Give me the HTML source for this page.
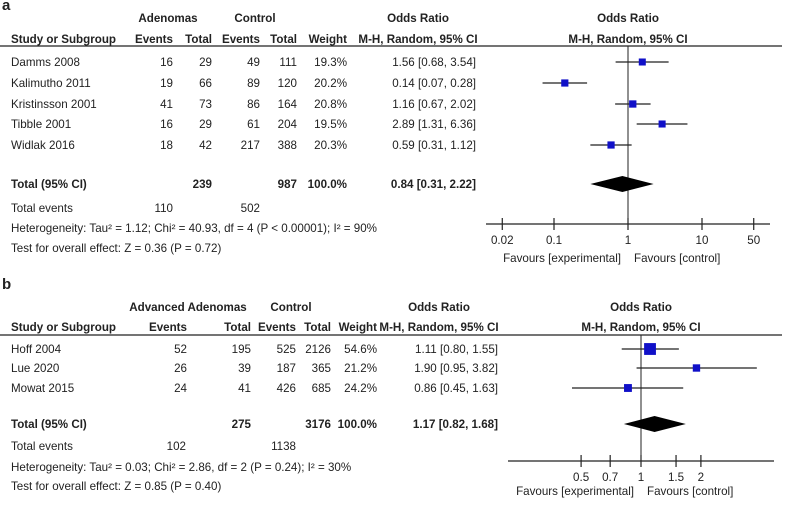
<!DOCTYPE html>
<html><head><meta charset="utf-8"><style>
body{margin:0;background:#fff}
svg text{font-family:"Liberation Sans",Arial,sans-serif;font-size:11.6px;fill:#222}
.b{font-weight:bold}
</style></head><body>
<svg id="s" width="786" height="500" viewBox="0 0 786 500"></svg>
<script>
// Panel a data
const aStudies=["Damms 2008","Kalimutho 2011","Kristinsson 2001","Tibble 2001","Widlak 2016"];
const aEvE=[16,19,41,16,18], aTotE=[29,66,73,29,42], aEvC=[49,89,86,61,217], aTotC=[111,120,164,204,388];
const aWeight=[19.3,20.2,20.8,19.5,20.3];
const aOR=[1.56,0.14,1.16,2.89,0.59], aLo=[0.68,0.07,0.67,1.31,0.31], aHi=[3.54,0.28,2.02,6.36,1.12];
const aPooled=[0.84,0.31,2.22];
const aTicks=[0.02,0.1,1,10,50];
// Panel b data
const bStudies=["Hoff 2004","Lue 2020","Mowat 2015"];
const bEvE=[52,26,24], bTotE=[195,39,41], bEvC=[525,187,426], bTotC=[2126,365,685];
const bWeight=[54.6,21.2,24.2];
const bOR=[1.11,1.90,0.86], bLo=[0.80,0.95,0.45], bHi=[1.55,3.82,1.63];
const bPooled=[1.17,0.82,1.68];
const bTicks=[0.5,0.7,1,1.5,2];

const S=document.getElementById('s'),NS='http://www.w3.org/2000/svg';
function el(t,a,name,txt){const e=document.createElementNS(NS,t);for(const k in a)e.setAttribute(k,a[k]);


if(txt!==undefined)e.textContent=txt;S.appendChild(e);return e;}
function tx(x,y,s,name,anchor,bold,size){const a={x:x,y:y+4,'text-anchor':anchor||'start'};if(bold)a['class']='b';if(size)a['style']='font-size:'+size+'px';return el('text',a,name,s);}
const f2=v=>v.toFixed(2);
function ci(o,l,h){return f2(o)+' ['+f2(l)+', '+f2(h)+']';}

function panel(p){
  const X=v=>p.x1+Math.log10(v)*p.ppd;
  tx(2,p.yLabel,p.letter,'panel-label-'+p.letter,'start',true,15);
  tx(p.grpE,p.yh1,p.grpName,'experimental-group-header','middle',true);
  tx(p.grpC,p.yh1,'Control','control-group-header','middle',true);
  tx(p.orC,p.yh1,'Odds Ratio','odds-ratio-header','middle',true);
  tx(p.x1,p.yh1,'Odds Ratio','plot-odds-ratio-header','middle',true);
  tx(11,p.yh2,'Study or Subgroup','study-column-header','start',true);
  tx(p.c[0],p.yh2,'Events','exp-events-header','end',true);
  tx(p.c[1],p.yh2,'Total','exp-total-header','end',true);
  tx(p.c[2],p.yh2,'Events','ctrl-events-header','end',true);
  tx(p.c[3],p.yh2,'Total','ctrl-total-header','end',true);
  tx(p.c[4],p.yh2,'Weight','weight-header','end',true);
  tx(p.orC,p.yh2,'M-H, Random, 95% CI','or-method-header','middle',true);
  tx(p.x1,p.yh2,'M-H, Random, 95% CI','plot-method-header','middle',true);
  el('line',{x1:0,x2:782,y1:p.yLine,y2:p.yLine,stroke:'#222','stroke-width':1.3},'header-rule');
  el('line',{x1:p.x1,x2:p.x1,y1:p.yLine,y2:p.yAxis,stroke:'#222','stroke-width':1},'null-line');
  p.st.forEach((s,i)=>{const y=p.rows[i];
    tx(11,y,s,'study-name');
    tx(p.c[0],y,p.evE[i],'exp-events','end');tx(p.c[1],y,p.totE[i],'exp-total','end');
    tx(p.c[2],y,p.evC[i],'ctrl-events','end');tx(p.c[3],y,p.totC[i],'ctrl-total','end');
    tx(p.c[4],y,p.w[i].toFixed(1)+'%','study-weight','end');
    tx(p.orR,y,ci(p.or[i],p.lo[i],p.hi[i]),'study-odds-ratio','end');
    el('line',{x1:X(p.lo[i]),x2:X(p.hi[i]),y1:y,y2:y,stroke:'#222','stroke-width':1.2},'ci-line');
    const sz=1.6*Math.sqrt(p.w[i]);
    el('rect',{x:X(p.or[i])-sz/2,y:y-sz/2,width:sz,height:sz,fill:'#1010c8'},'study-marker');
  });
  const yt=p.yTot, tE=p.totE.reduce((a,b)=>a+b,0), tC=p.totC.reduce((a,b)=>a+b,0);
  tx(11,yt,'Total (95% CI)','total-label','start',true);
  tx(p.c[1],yt,tE,'total-exp','end',true);tx(p.c[3],yt,tC,'total-ctrl','end',true);
  tx(p.c[4],yt,'100.0%','total-weight','end',true);
  tx(p.orR,yt,ci(p.pool[0],p.pool[1],p.pool[2]),'pooled-odds-ratio','end',true);
  el('polygon',{points:[X(p.pool[1])+','+yt,X(p.pool[0])+','+(yt-8),X(p.pool[2])+','+yt,X(p.pool[0])+','+(yt+8)].join(' '),fill:'#000'},'pooled-diamond');
  tx(11,p.yEv,'Total events','total-events-label');
  tx(p.evEx,p.yEv,p.evE.reduce((a,b)=>a+b,0),'total-exp-events','end');
  tx(p.evCx,p.yEv,p.evC.reduce((a,b)=>a+b,0),'total-ctrl-events','end');
  tx(11,p.yHet,p.het,'heterogeneity-text');
  tx(11,p.yTest,p.test,'overall-effect-text');
  el('line',{x1:p.ax0,x2:p.ax1,y1:p.yAxis,y2:p.yAxis,stroke:'#222','stroke-width':1.2},'x-axis');
  p.ticks.forEach(t=>{el('line',{x1:X(t),x2:X(t),y1:p.yAxis-6,y2:p.yAxis+6,stroke:'#222','stroke-width':1.2},'x-tick');
    tx(X(t),p.yAxis+16,String(t),'x-tick-label','middle');});
  tx(p.x1-7,p.yFav,'Favours [experimental]','favours-experimental','end');
  tx(p.x1+6,p.yFav,'Favours [control]','favours-control','start');
}
panel({letter:'a',yLabel:6,x1:628,ppd:74,grpName:'Adenomas',grpE:168,grpC:255,orC:418,orR:476,
 c:[173,212,260,297,347],yh1:18,yh2:39,yLine:46,yAxis:224,yFav:258,rows:[62,83,104,124,145],yTot:184,
 yEv:208,evEx:173,evCx:260,yHet:228,yTest:248,ax0:486,ax1:770,
 st:aStudies,evE:aEvE,totE:aTotE,evC:aEvC,totC:aTotC,w:aWeight,or:aOR,lo:aLo,hi:aHi,pool:aPooled,ticks:aTicks,
 het:'Heterogeneity: Tau² = 1.12; Chi² = 40.93, df = 4 (P < 0.00001); I² = 90%',test:'Test for overall effect: Z = 0.36 (P = 0.72)'});
panel({letter:'b',yLabel:285,x1:641,ppd:199,grpName:'Advanced Adenomas',grpE:188,grpC:291,orC:439,orR:498,
 c:[187,251,296,331,377],yh1:307,yh2:327,yLine:335,yAxis:461,yFav:491,rows:[349,368,388],yTot:424,
 yEv:446,evEx:186,evCx:296,yHet:467,yTest:486,ax0:508,ax1:774,
 st:bStudies,evE:bEvE,totE:bTotE,evC:bEvC,totC:bTotC,w:bWeight,or:bOR,lo:bLo,hi:bHi,pool:bPooled,ticks:bTicks,
 het:'Heterogeneity: Tau² = 0.03; Chi² = 2.86, df = 2 (P = 0.24); I² = 30%',test:'Test for overall effect: Z = 0.85 (P = 0.40)'});
</script>
</body></html>
